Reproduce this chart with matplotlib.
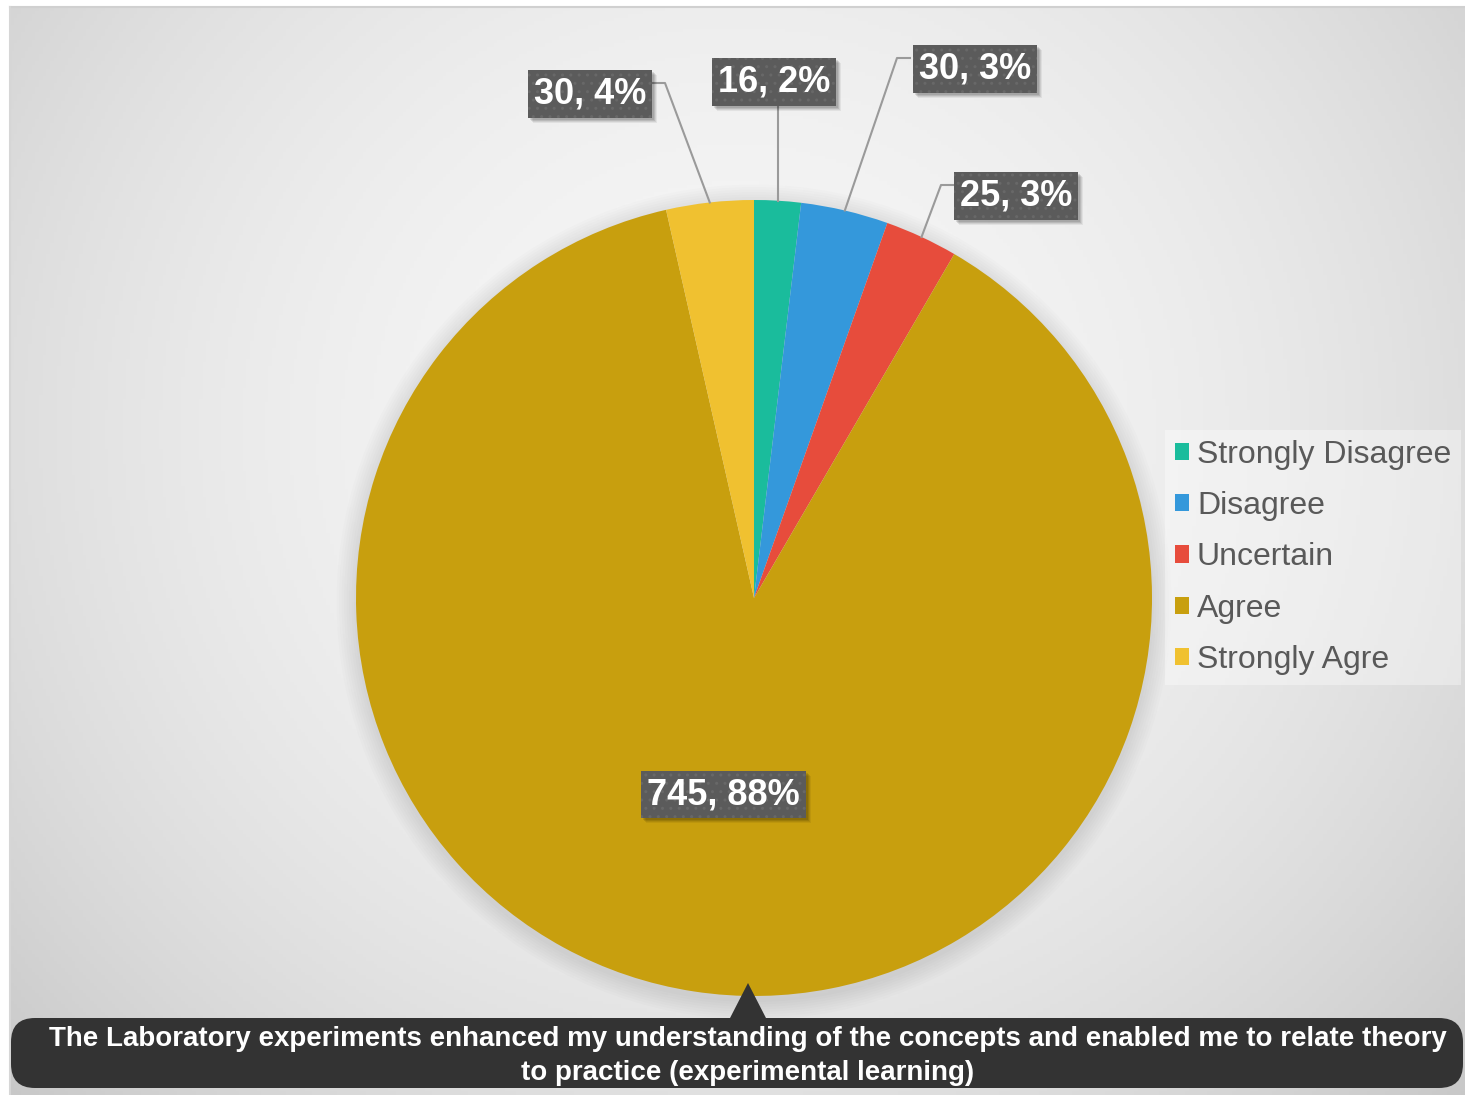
import numpy as np
import matplotlib
matplotlib.use("Agg")
import matplotlib.pyplot as plt
from matplotlib.patches import FancyBboxPatch, Polygon, Patch, Circle, Rectangle

# ---------------- data ----------------
categories = ["Strongly Disagree", "Disagree", "Uncertain", "Agree", "Strongly Agre"]
values = [16, 30, 25, 745, 30]
pct_labels = ["2%", "3%", "3%", "88%", "4%"]
colors = ["#1ABC9C", "#3498DB", "#E74C3C", "#C89F0E", "#F0C130"]
caption = ("The Laboratory experiments enhanced my understanding of the concepts and enabled me to relate theory\n"
           "to practice (experimental learning)")

W, H = 1465, 1095
fig = plt.figure(figsize=(W / 100, H / 100), dpi=100)
fig.patch.set_facecolor("white")
ax = fig.add_axes([0, 0, 1, 1])


def Y(y):
    return H - y


# ---------------- background gradient ----------------
x0, x1, y0, y1 = 10, W, 7, H
xs = np.linspace(x0, x1, 400)
ys = np.linspace(y0, y1, 300)
XX, YY = np.meshgrid(xs, ys)
dx = (XX - 735) / 730
dy = (YY - 430) / 700
d2 = dx ** 2 + dy ** 2
g = np.clip(0.965 - 0.095 * d2, 0.76, 1)
img = np.dstack([g, g, g])
ax.imshow(img, extent=(x0, x1, Y(y1), Y(y0)), origin="upper", zorder=0, aspect="auto")
ax.plot([x0, x1], [Y(y0), Y(y0)], color="#D0D0D0", lw=1.5, zorder=1)
ax.plot([x0, x0], [Y(y0), Y(y1)], color="#D6D6D6", lw=1.5, zorder=1)

# ---------------- pie ----------------
cx, cy, R = 754, 598, 398
# soft shadow
for k in range(8):
    ax.add_patch(Circle((cx, Y(cy) - 4), R + 2 + k * 2.5, color="black", alpha=0.012, lw=0, zorder=2))
wedges, _ = ax.pie(values, colors=colors, startangle=90, counterclock=False,
                   center=(cx, Y(cy)), radius=R, wedgeprops=dict(linewidth=0, zorder=3))
for w in wedges:
    w.set_zorder(3)

# ---------------- data labels ----------------
box_centers = {0: (774, 82), 1: (975, 69), 2: (1016, 196), 4: (590, 94)}
elbows = {1: [(897, 58), (910, 58)], 2: [(941, 185), (953, 185)], 4: [(665, 83), (653, 83)]}
label_kw = dict(fontsize=26, fontweight="bold", color="white", family="Liberation Sans",
                ha="center", va="center", zorder=6)
label_texts = []


def draw_label(x, y, text):
    t = ax.text(x, Y(y), text, **label_kw,
                bbox=dict(boxstyle="square,pad=0.17", facecolor="#5B5B5B", edgecolor="#686868",
                          lw=0, hatch=".."))
    label_texts.append(t)


for i, w in enumerate(wedges):
    mid = np.deg2rad((w.theta1 + w.theta2) / 2)
    text = f"{values[i]}, {pct_labels[i]}"
    if i == 3:
        lx = cx + 0.5 * R * np.cos(mid)
        ly = Y(cy) + 0.5 * R * np.sin(mid)
        draw_label(lx, H - ly, text)
        continue
    ex = cx + R * np.cos(mid)
    ey = Y(cy) + R * np.sin(mid)
    bx, by = box_centers[i]
    if i == 0:
        pts = [(ex, ey), (ex, Y(107))]
    else:
        pts = [(ex, ey)] + [(px, Y(py)) for px, py in elbows[i]]
    ax.plot([p[0] for p in pts], [p[1] for p in pts], color="#9A9A9A", lw=1.5, zorder=4)
    draw_label(bx, by, text)

# ---------------- legend ----------------
handles = [Patch(facecolor=c, edgecolor="none") for c in colors]
leg = ax.legend(handles, categories, loc="upper left", bbox_to_anchor=(1165 / W, 1 - 430 / H),
                bbox_transform=fig.transFigure, frameon=True, fancybox=False,
                prop=dict(family="Liberation Sans", size=23), labelcolor="#595959",
                handlelength=0.45, handleheight=0.45, handletextpad=0.25,
                labelspacing=0.67, borderpad=0.3, borderaxespad=0)
leg.get_frame().set_facecolor("white")
leg.get_frame().set_alpha(0.35)
leg.get_frame().set_linewidth(0)
leg.set_zorder(5)

# ---------------- caption callout ----------------
ax.add_patch(FancyBboxPatch((11, Y(1088)), 1452, 70,
                            boxstyle="round,pad=0,rounding_size=24",
                            facecolor="#333333", edgecolor="none", zorder=7,
                            mutation_aspect=1))
ax.add_patch(Polygon([(729, Y(1020)), (767, Y(1020)), (748, Y(983))], closed=True,
                     facecolor="#333333", edgecolor="none", zorder=7))
ax.text(748, Y(1056), caption, ha="center", va="center", color="white", fontsize=20,
        fontweight="bold", family="Liberation Sans", linespacing=1.45, zorder=8)

ax.set_xlim(0, W)
ax.set_ylim(0, H)
ax.set_aspect("auto")
ax.axis("off")

# soft drop shadows behind the label boxes
fig.canvas.draw()
renderer = fig.canvas.get_renderer()
inv = ax.transData.inverted()
for t in label_texts:
    bb = t.get_bbox_patch().get_window_extent(renderer)
    (bx0, by0), (bx1, by1) = inv.transform([[bb.x0, bb.y0], [bb.x1, bb.y1]])
    for off, a in ((5, 0.06), (4, 0.08), (3, 0.10), (2, 0.10)):
        ax.add_patch(Rectangle((bx0 + off, by0 - off), bx1 - bx0, by1 - by0,
                               facecolor="black", alpha=a, lw=0, zorder=5))

fig.savefig("out.png", dpi=100)
